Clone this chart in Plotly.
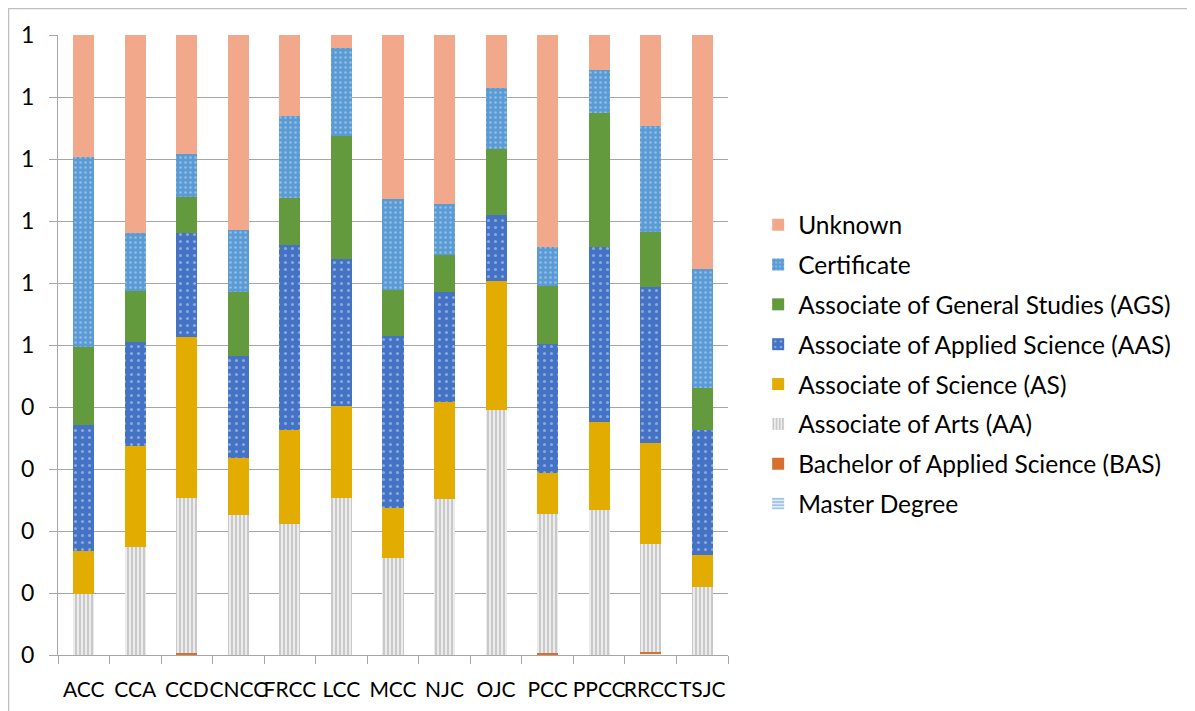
import plotly.graph_objects as go

# Colleges on the x axis
colleges = ["ACC", "CCA", "CCD", "CNCC", "FRCC", "LCC", "MCC", "NJC", "OJC",
            "PCC", "PPCC", "RRCC", "TSJC"]

# Share of each award type per college (fractions of 1)
master = [0, 0, 0, 0, 0, 0, 0, 0, 0, 0, 0, 0.003, 0]
bas = [0, 0, 0.003, 0, 0, 0, 0, 0, 0, 0.003, 0, 0.002, 0]
aa = [0.099, 0.174, 0.251, 0.226, 0.212, 0.254, 0.157, 0.252, 0.395, 0.224, 0.234, 0.174, 0.110]
as_ = [0.069, 0.163, 0.259, 0.092, 0.151, 0.148, 0.080, 0.156, 0.208, 0.067, 0.142, 0.163, 0.051]
aas = [0.203, 0.168, 0.168, 0.165, 0.298, 0.237, 0.278, 0.177, 0.106, 0.208, 0.282, 0.252, 0.202]
ags = [0.125, 0.082, 0.058, 0.103, 0.076, 0.198, 0.074, 0.060, 0.107, 0.093, 0.216, 0.088, 0.068]
cert = [0.307, 0.094, 0.069, 0.100, 0.132, 0.142, 0.146, 0.082, 0.099, 0.063, 0.070, 0.171, 0.192]
unknown = [0.197, 0.319, 0.192, 0.315, 0.131, 0.021, 0.265, 0.273, 0.085, 0.342, 0.056, 0.147, 0.377]

y_ticks = [0, 0.1, 0.2, 0.3, 0.4, 0.5, 0.6, 0.7, 0.8, 0.9, 1.0]
y_labels = ["0", "0", "0", "0", "0", "1", "1", "1", "1", "1", "1"]

FONT = "Lato, 'Open Sans', sans-serif"

series = [
    ("Master Degree", master, dict(color="#9DC3E6", pattern=dict(shape="-", fgcolor="#5B9BD5", bgcolor="#DEEBF7", size=4, solidity=0.5))),
    ("Bachelor of Applied Science (BAS)", bas, dict(color="#D7702E")),
    ("Associate of Arts (AA)", aa, dict(color="#BFBFBF", pattern=dict(shape="|", fgcolor="#A6A6A6", bgcolor="#ECECEC", size=4, solidity=0.5))),
    ("Associate of Science (AS)", as_, dict(color="#E2AC00")),
    ("Associate of Applied Science (AAS)", aas, dict(color="#4472C4", pattern=dict(shape=".", fgcolor="#D6E0F4", bgcolor="#4472C4", size=7, solidity=0.15))),
    ("Associate of General Studies (AGS)", ags, dict(color="#629A3D")),
    ("Certificate", cert, dict(color="#5B9BD5", pattern=dict(shape=".", fgcolor="#C9DEF2", bgcolor="#5B9BD5", size=5, solidity=0.2))),
    ("Unknown", unknown, dict(color="#F2A98B")),
]

fig = go.Figure()
for i, (name, vals, marker) in enumerate(series):
    fig.add_trace(go.Bar(
        x=colleges, y=vals, name=name, marker=marker,
        marker_line_width=0, legendgroup=name,
        legendrank=1000 - i * 10,  # top of the stack listed first
    ))

fig.update_layout(
    barmode="stack",
    barnorm="fraction",
    bargap=0.59,
    width=1195, height=711,
    # the page puts the figure 8px in from the top-left corner
    margin=dict(l=50, r=475, t=27, b=64, autoexpand=False),
    plot_bgcolor="white", paper_bgcolor="white",
    font=dict(family=FONT, size=22, color="black"),
    showlegend=True,
    legend=dict(
        x=1.045, xanchor="left", y=0.469, yanchor="middle",
        traceorder="grouped", tracegroupgap=5,
        font=dict(family=FONT, size=24.5),
    ),
    xaxis=dict(
        showline=True, linecolor="#A6A6A6", linewidth=1,
        ticks="outside", tickson="boundaries", ticklen=8, tickcolor="#A6A6A6",
        ticklabelstandoff=16, tickfont=dict(size=21), tickangle=0,
        automargin=False,
    ),
    yaxis=dict(
        range=[0, 1], tickvals=y_ticks, ticktext=y_labels,
        showgrid=True, gridcolor="#A6A6A6", gridwidth=1,
        showline=True, linecolor="#A6A6A6", linewidth=1,
        ticks="outside", ticklen=8, tickcolor="#A6A6A6",
        tickfont=dict(size=23), zeroline=False, automargin=False,
        ticklabelstandoff=10,
    ),
    # chart-area border along the top and left edges
    shapes=[dict(type="rect", xref="paper", yref="paper",
                 x0=-0.0739, x1=1.8, y0=-0.2, y1=1.0427,
                 line=dict(color="#BFBFBF", width=1.5), layer="above")],
)

fig.write_html("out.html")
